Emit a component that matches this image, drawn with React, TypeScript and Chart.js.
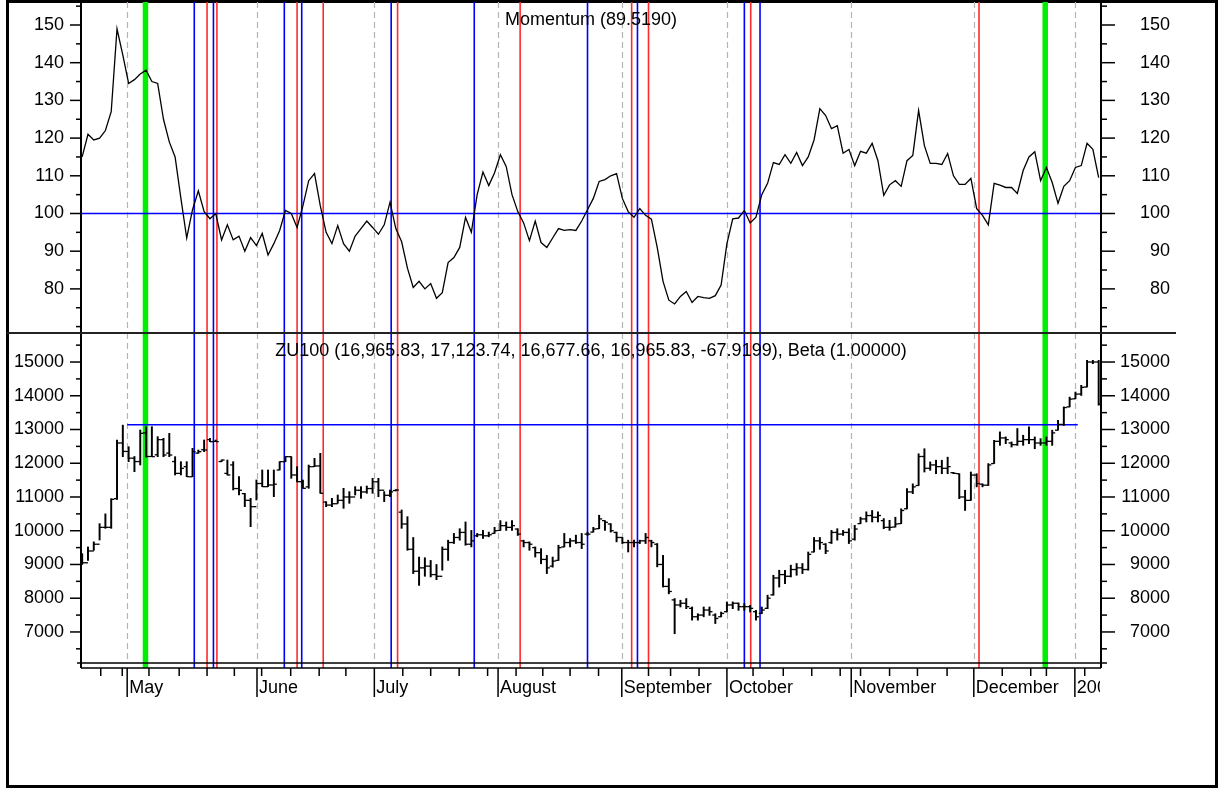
import React, { useEffect, useRef } from 'react';
import { Chart, registerables } from 'chart.js';

Chart.register(...registerables);

const W = 1219;
const H = 789;
const FONT = '"Liberation Sans", Arial, Helvetica, sans-serif';
const FS = 18;

// ---- data (one value per trading day) ----
const momentum = [
  115, 121, 119.5, 120, 122, 127, 149, 142, 134.5, 135.5,
  137, 138, 135, 134.5, 125, 119, 115, 104, 93.5, 101,
  106, 100.5, 98.6, 100, 93, 97, 93, 94, 90, 93.6,
  91.5, 94.7, 89, 92, 95.5, 100.8, 100, 96.3, 102, 108.7,
  110.6, 102, 95, 92, 96.8, 92, 90, 94, 96, 98,
  96.3, 94.5, 97, 103, 96, 92.5, 85.5, 80.4, 82, 80,
  81.4, 77.5, 79, 87, 88.3, 91, 99, 95, 105, 111,
  107.4, 110.8, 115.6, 112.5, 105, 100.5, 97.5, 92.8, 98, 92.3,
  91, 93.5, 96, 95.5, 95.7, 95.5, 98, 101, 104, 108.5,
  109, 110, 110.6, 104, 100.5, 99, 101.3, 99.5, 98.5, 91,
  82, 77, 76, 78, 79.3, 76.4, 78, 77.7, 77.5, 78.2,
  81, 92, 98.6, 98.8, 100.8, 97.5, 99, 105, 108, 113.5,
  113, 115.6, 113.3, 116.2, 112.7, 115, 119.5, 127.8, 126, 122.5,
  123.3, 116, 117, 112.7, 116.5, 116, 118.6, 114, 104.8, 107.6,
  108.7, 107.2, 114, 115.4, 127.3, 118, 113.3, 113.3, 113, 115.9,
  110, 107.7, 107.7, 109.3, 101.3, 99.5, 97, 108, 107.5, 106.9,
  106.9, 105.3, 111.4, 115, 116.4, 108.7, 112.2, 108.2, 102.7, 107.2,
  108.7, 112.2, 112.7, 118.6, 117, 109.5,
];

const priceOpen = [
  9100, 9050, 9400, 9600, 10100, 10100, 10950, 12600, 12350, 12150,
  12050, 12900, 12200, 12250, 12700, 12300, 12050, 11700, 11900, 11600,
  12300, 12400, 12700, 12650, 12050, 11700, 11950, 11250, 11100, 10900,
  10713, 11400, 11306, 11355, 11800, 12047, 12195, 11652, 11454, 11300,
  11900, 11920, 10850, 10760, 10800, 10900, 11000, 11000, 11200, 11150,
  11250, 11450, 11200, 11050, 11190, 10550, 10200, 9450, 8800, 8900,
  8950, 8700, 8650, 9450, 9650, 9800, 9950, 9600, 9850, 9880,
  9850, 9920, 10010, 10150, 10100, 10050, 9700, 9650, 9500, 9350,
  9150, 8950, 9120, 9520, 9650, 9700, 9650, 9900, 9960, 10060,
  10300, 10200, 9950, 9800, 9650, 9650, 9650, 9700, 9700, 9600,
  9000, 8350, 7950, 7800, 7850, 7700, 7450, 7500, 7650, 7500,
  7450, 7600, 7800, 7850, 7750, 7750, 7600, 7550, 7700, 8100,
  8600, 8700, 8650, 8850, 8900, 8850, 9370, 9700, 9600, 9650,
  9950, 9900, 9950, 9750, 10210, 10350, 10450, 10400, 10300, 10100,
  10110, 10210, 10650, 11150, 11340, 12200, 11850, 11950, 11900, 11850,
  11720, 11690, 11000, 10900, 11650, 11380, 11350, 11990, 12650, 12750,
  12600, 12550, 12650, 12700, 12700, 12600, 12600, 12650, 12980, 13150,
  13670, 13910, 14050, 14260, 15000, 15000,
];

const priceHigh = [
  9320, 9520, 9670, 10210, 10500, 10950, 12690, 13130, 12490, 12200,
  12985, 13080, 13084, 12788, 12738, 12886, 12195, 12047, 12047, 12442,
  12392, 12689, 12738, 12689, 12096, 12096, 12047, 11602, 11109, 10960,
  11504, 11800, 11800, 11800, 12047, 12195, 12195, 11899, 11504, 11948,
  12145, 12294, 10862, 10960, 11059, 11257, 11158, 11306, 11306, 11325,
  11553, 11553, 11158, 11207, 11220, 10615, 10417, 9800, 9220, 9200,
  9120, 9000, 9520, 9720, 9920, 10060, 10260, 10010, 9920, 10010,
  9960, 10100, 10300, 10260, 10300, 10060, 9720, 9670, 9520, 9470,
  9270, 9220, 9570, 9920, 9770, 9870, 9920, 9960, 10100, 10460,
  10300, 10210, 9960, 9800, 9720, 9720, 9720, 9920, 9720, 9620,
  9270, 8580, 7990, 7940, 7990, 7740, 7540, 7740, 7740, 7540,
  7590, 7890, 7890, 7860, 7840, 7790, 7640, 7740, 8090, 8680,
  8830, 8830, 8980, 9030, 9030, 9370, 9800, 9800, 9620, 10010,
  10060, 10010, 10060, 10160, 10400, 10560, 10600, 10560, 10360, 10310,
  10400, 10650, 11250, 11390, 12280, 12430, 12040, 12090, 12090, 12180,
  11730, 11690, 11200, 11740, 11690, 11390, 11990, 12680, 12930, 12780,
  12630, 13030, 12830, 13080, 12780, 12730, 12780, 12980, 13270, 13670,
  13960, 14110, 14310, 15050, 15050, 15050,
];

const priceLow = [
  9000, 9120, 9420, 9725, 10071, 10071, 10930, 12195, 12047, 11750,
  11948, 12180, 12195, 12195, 12195, 12195, 11652, 11652, 11602, 11602,
  12294, 12343, 12639, 12639, 12047, 11652, 11208, 11059, 10713, 10120,
  10911, 11306, 11306, 11010, 11800, 12047, 11553, 11450, 11257, 11257,
  11899, 11109, 10713, 10713, 10812, 10664, 10812, 11059, 10960, 11109,
  11109, 11010, 10862, 11010, 11180, 10071, 9420, 8730, 8380, 8650,
  8630, 8550, 8830, 9120, 9620, 9720, 9570, 9520, 9820, 9770,
  9820, 9920, 10010, 10010, 10010, 9860, 9520, 9420, 9220, 9020,
  8730, 8920, 9120, 9520, 9520, 9620, 9470, 9860, 9960, 10060,
  10010, 9960, 9670, 9620, 9370, 9520, 9620, 9620, 9520, 8930,
  8330, 8130, 6950, 7740, 7690, 7350, 7350, 7450, 7490, 7250,
  7450, 7590, 7690, 7640, 7640, 7590, 7350, 7540, 7690, 8090,
  8330, 8430, 8630, 8680, 8730, 8830, 9370, 9450, 9320, 9620,
  9720, 9860, 9620, 9720, 10210, 10260, 10260, 10260, 10060, 10010,
  10110, 10210, 10650, 11100, 11340, 11740, 11790, 11690, 11690, 11690,
  11690, 10950, 10600, 10900, 11300, 11300, 11340, 11990, 12530, 12580,
  12480, 12530, 12530, 12580, 12430, 12530, 12530, 12530, 12980, 13120,
  13670, 13910, 14010, 14260, 14950, 13720,
];

const priceClose = [
  9050, 9400, 9600, 10100, 10100, 10930, 12600, 12350, 12150, 12050,
  12886, 12200, 12195, 12700, 12244, 12244, 11700, 11849, 11602, 12343,
  12343, 12392, 12639, 12640, 12096, 11652, 11250, 11200, 10900, 10713,
  11400, 11306, 11355, 11380, 12047, 12195, 11652, 11454, 11257, 11900,
  11920, 11109, 10760, 10800, 10900, 11000, 11000, 11200, 11150, 11250,
  11450, 11200, 11050, 11150, 11207, 10200, 9450, 8800, 8900, 8950,
  8700, 8650, 9450, 9650, 9800, 9950, 9600, 9700, 9880, 9850,
  9880, 10000, 10150, 10100, 10150, 9900, 9650, 9600, 9350, 9150,
  8900, 9100, 9500, 9650, 9700, 9650, 9600, 9900, 10050, 10350,
  10250, 10000, 9800, 9650, 9650, 9650, 9700, 9800, 9650, 9000,
  8350, 8200, 7800, 7850, 7750, 7450, 7500, 7650, 7600, 7400,
  7550, 7800, 7850, 7750, 7750, 7700, 7450, 7650, 8000, 8600,
  8700, 8650, 8850, 8900, 8850, 9300, 9700, 9650, 9400, 9950,
  9900, 9950, 9700, 10050, 10350, 10450, 10400, 10450, 10100, 10100,
  10200, 10600, 11150, 11300, 12200, 11850, 11950, 11900, 11850, 11900,
  11700, 11000, 10900, 11650, 11400, 11350, 11950, 12650, 12750, 12700,
  12550, 12650, 12700, 12700, 12600, 12600, 12650, 12900, 13150, 13650,
  13900, 14050, 14250, 15000, 15000, 13750,
];

const momentumLevel = 100;
const resistanceLevel = 13140;
const resistanceFrom = 7.75;
const resistanceTo = 171.4;

const monthLabels = ['May', 'June', 'July', 'August', 'September', 'October', 'November', 'December', '2007'];
const monthPos = [7.75, 30.1, 50.3, 71.6, 92.9, 111.0, 132.4, 153.5, 170.9];
const weekPos = [
  3.2, 6.9, 11.5, 16.7, 21.5, 26.2, 30.9, 35.9, 40.8, 45.4, 55.2, 60, 64.9, 69.8,
  74.7, 79.3, 84, 88.9, 97.5, 101.3, 106.2, 115.5, 120.7, 125.6, 130.5, 134, 139,
  143.8, 148.9, 158.4, 163.3, 166, 172.6,
];

const blueEvents = [19.3, 22.6, 34.8, 37.8, 53.2, 67.5, 87.0, 95.6, 114.0, 116.7];
const redEvents = [21.5, 23.2, 37.0, 41.5, 54.3, 75.4, 94.6, 97.5, 115.1, 154.4];
const greenEvents = [10.9, 165.8];

const momTicks = [70, 75, 80, 85, 90, 95, 100, 105, 110, 115, 120, 125, 130, 135, 140, 145, 150, 155];
const priceTicks = [6500, 7000, 7500, 8000, 8500, 9000, 9500, 10000, 10500, 11000, 11500, 12000, 12500, 13000, 13500, 14000, 14500, 15000, 15500];

const momTitle = 'Momentum (89.5190)';
const priceTitle = 'ZU100 (16,965.83, 17,123.74, 16,677.66, 16,965.83, -67.9199), Beta (1.00000)';

const X_MIN = -0.2;
const X_MAX = 175.4;

type Panel = 'top' | 'bottom';

function line(ctx: CanvasRenderingContext2D, x1: number, y1: number, x2: number, y2: number) {
  ctx.beginPath();
  ctx.moveTo(x1, y1);
  ctx.lineTo(x2, y2);
  ctx.stroke();
}

function decor(panel: Panel) {
  return {
    id: 'decor_' + panel,
    beforeDatasetsDraw(chart: any) {
      const ctx: CanvasRenderingContext2D = chart.ctx;
      const a = chart.chartArea;
      const xs = chart.scales.x;
      const yEnd = panel === 'bottom' ? a.bottom + 5 : a.bottom;
      ctx.save();
      ctx.lineWidth = 1.2;
      ctx.strokeStyle = '#b4b4b4';
      ctx.setLineDash([6, 4]);
      for (const p of monthPos) {
        const x = Math.round(xs.getPixelForValue(p)) + 0.5;
        line(ctx, x, a.top, x, a.bottom);
      }
      ctx.setLineDash([]);
      const drawV = (arr: number[], color: string, w: number) => {
        ctx.strokeStyle = color;
        ctx.lineWidth = w;
        for (const p of arr) {
          const x = xs.getPixelForValue(p);
          line(ctx, x, a.top, x, yEnd);
        }
      };
      drawV(greenEvents, '#00ee00', 5.5);
      drawV(blueEvents, '#0000ff', 1.6);
      drawV(redEvents, '#ff2a2a', 1.6);
      ctx.restore();
    },
    afterDatasetsDraw(chart: any) {
      const ctx: CanvasRenderingContext2D = chart.ctx;
      const a = chart.chartArea;
      const xs = chart.scales.x;
      const yl = chart.scales.y;
      const yEnd = panel === 'bottom' ? a.bottom + 5 : a.bottom;
      ctx.save();
      ctx.strokeStyle = '#000';
      ctx.lineWidth = 2;
      line(ctx, a.left, a.top, a.left, yEnd);
      line(ctx, a.right, a.top, a.right, yEnd);
      ctx.lineWidth = 1.5;
      for (const t of yl.ticks) {
        const y = yl.getPixelForValue(t.value);
        if (y < a.top - 0.5 || y > a.bottom + 0.5) continue;
        const major = t.label !== '' && t.label !== undefined;
        line(ctx, a.left - (major ? 11 : 5), y, a.left, y);
        line(ctx, a.right, y, a.right + (major ? 14 : 6), y);
      }
      ctx.fillStyle = '#000';
      ctx.font = `${FS}px ${FONT}`;
      ctx.textAlign = 'center';
      ctx.textBaseline = 'alphabetic';
      const cx = (a.left + a.right) / 2;
      if (panel === 'top') {
        ctx.fillText(momTitle, cx, a.top + 23);
      } else {
        ctx.fillText(priceTitle, cx, a.top + 22.5);
        // separator between panels
        ctx.strokeStyle = '#222';
        ctx.lineWidth = 2;
        line(ctx, 7, a.top, a.right + 75, a.top);
        // bottom lines
        ctx.strokeStyle = '#000';
        ctx.lineWidth = 1.5;
        line(ctx, a.left - 4, a.bottom, a.right + 6, a.bottom);
        const base = a.bottom + 5;
        line(ctx, a.left, base, a.right, base);
        for (const p of weekPos) {
          const x = xs.getPixelForValue(p);
          line(ctx, x, base, x, base + 8);
        }
        for (const p of monthPos) {
          const x = xs.getPixelForValue(p);
          line(ctx, x, base, x, base + 29);
        }
        ctx.save();
        ctx.beginPath();
        ctx.rect(0, 0, a.right - 1, H);
        ctx.clip();
        ctx.textAlign = 'left';
        monthLabels.forEach((lab, i) => {
          const x = xs.getPixelForValue(monthPos[i]);
          ctx.fillText(lab, x + 2, base + 25);
        });
        ctx.restore();
      }
      ctx.restore();
    },
  };
}

function yAxis(position: 'left' | 'right', min: number, max: number, ticks: number[], labelFn: (v: number) => string) {
  return {
    type: 'linear' as const,
    position,
    min,
    max,
    afterBuildTicks: (s: any) => {
      s.ticks = ticks.map((v) => ({ value: v }));
    },
    afterFit: (s: any) => {
      // left axis: labels right-aligned 17px left of the axis line
      // right axis: labels right-aligned at the outer edge of this box
      s.width = position === 'left' ? 81 : 69;
      s.paddingTop = 0;
      s.paddingBottom = 0;
    },
    grid: { display: false, drawTicks: false },
    border: { display: false },
    ticks: {
      autoSkip: false,
      padding: 17,
      crossAlign: position === 'left' ? ('near' as const) : ('far' as const),
      color: '#000',
      font: { family: FONT, size: FS },
      callback: (v: any) => labelFn(Number(v)),
    },
  };
}

export default function App() {
  const topRef = useRef<HTMLCanvasElement>(null);
  const botRef = useRef<HTMLCanvasElement>(null);

  useEffect(() => {
    const momLabel = (v: number) => (v >= 80 && v <= 150 && v % 10 === 0 ? String(v) : '');
    const priceLabel = (v: number) => (v >= 7000 && v <= 15000 && v % 1000 === 0 ? String(v) : '');

    const top = new Chart(topRef.current!, {
      type: 'line',
      data: {
        datasets: [
          {
            label: 'Momentum',
            data: momentum.map((v, i) => ({ x: i, y: v })),
            borderColor: '#000',
            borderWidth: 1.3,
            pointRadius: 0,
            tension: 0,
            xAxisID: 'x',
            yAxisID: 'y',
          },
          {
            label: 'Level',
            data: [
              { x: X_MIN, y: momentumLevel },
              { x: X_MAX, y: momentumLevel },
            ],
            borderColor: '#0000ff',
            borderWidth: 1.5,
            pointRadius: 0,
            xAxisID: 'x',
            yAxisID: 'y',
          },
        ],
      },
      options: {
        responsive: false,
        animation: false,
        devicePixelRatio: 1,
        events: [],
        layout: { padding: { top: 2, bottom: H - 333, left: 0, right: W - 1170 } },
        plugins: { legend: { display: false }, tooltip: { enabled: false }, title: { display: false } },
        scales: {
          x: { type: 'linear', min: X_MIN, max: X_MAX, display: false },
          y: yAxis('left', 68.3, 156.1, momTicks, momLabel),
          yr: yAxis('right', 68.3, 156.1, momTicks, momLabel),
        },
      } as any,
      plugins: [decor('top')],
    });

    const bottom = new Chart(botRef.current!, {
      type: 'bar',
      data: {
        datasets: [
          {
            type: 'line',
            label: 'Open',
            data: priceOpen.map((v, i) => ({ x: i, y: v })),
            showLine: false,
            pointStyle: 'dash',
            pointRotation: 180,
            pointRadius: 3,
            pointBorderColor: '#000',
            pointBorderWidth: 1.3,
            xAxisID: 'x',
            yAxisID: 'y',
          },
          {
            type: 'line',
            label: 'Close',
            data: priceClose.map((v, i) => ({ x: i, y: v })),
            showLine: false,
            pointStyle: 'dash',
            pointRotation: 0,
            pointRadius: 3,
            pointBorderColor: '#000',
            pointBorderWidth: 1.3,
            xAxisID: 'x',
            yAxisID: 'y',
          },
          {
            type: 'bar',
            label: 'High-Low',
            data: priceHigh.map((h, i) => ({ x: i, y: [priceLow[i], h] })),
            backgroundColor: '#000',
            borderWidth: 0,
            barThickness: 1.3,
            xAxisID: 'x',
            yAxisID: 'y',
          },
          {
            type: 'line',
            label: 'Resistance',
            data: [
              { x: resistanceFrom, y: resistanceLevel },
              { x: resistanceTo, y: resistanceLevel },
            ],
            borderColor: '#0000ff',
            borderWidth: 1.5,
            pointRadius: 0,
            xAxisID: 'x',
            yAxisID: 'y',
          },
        ],
      } as any,
      options: {
        responsive: false,
        animation: false,
        devicePixelRatio: 1,
        events: [],
        layout: { padding: { top: 333, bottom: H - 663, left: 0, right: W - 1170 } },
        plugins: { legend: { display: false }, tooltip: { enabled: false }, title: { display: false } },
        scales: {
          x: { type: 'linear', min: X_MIN, max: X_MAX, display: false, offset: false, grid: { offset: false } },
          y: yAxis('left', 6080, 15860, priceTicks, priceLabel),
          yr: yAxis('right', 6080, 15860, priceTicks, priceLabel),
        },
      } as any,
      plugins: [decor('bottom')],
    });

    return () => {
      top.destroy();
      bottom.destroy();
    };
  }, []);

  return (
    <div style={{ position: 'absolute', left: 0, top: 0, width: W, height: H, background: '#fff', overflow: 'hidden' }}>
      <div
        style={{
          position: 'absolute',
          left: 6,
          top: 0,
          width: 1212,
          height: 788,
          border: '3px solid #000',
          boxSizing: 'border-box',
        }}
      />
      <canvas ref={topRef} width={W} height={H} style={{ position: 'absolute', left: 0, top: 0, width: W, height: H }} />
      <canvas ref={botRef} width={W} height={H} style={{ position: 'absolute', left: 0, top: 0, width: W, height: H }} />
    </div>
  );
}
